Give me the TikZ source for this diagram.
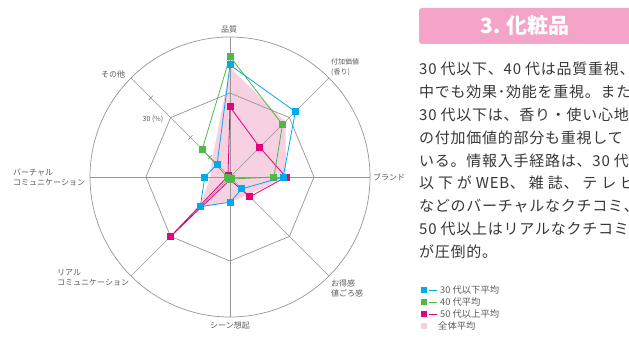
\documentclass[tikz,border=0pt]{standalone}
\usepackage{fontspec}
\setmainfont{Noto Sans CJK JP}
\usepackage{xcolor}

\definecolor{c30}{RGB}{0,171,233}
\definecolor{c40}{RGB}{80,184,72}
\definecolor{c50}{RGB}{228,0,127}
\definecolor{cavg}{RGB}{247,208,225}
\definecolor{cgrid}{RGB}{150,150,150}
\definecolor{chead}{RGB}{244,164,199}
\definecolor{ctext}{RGB}{55,55,55}
\definecolor{clabel}{RGB}{90,90,90}

\tikzset{
    axisline/.style = {cgrid, line width=0.7pt},
    series/.style = {line width=0.8pt},
    marker/.style = {rectangle, inner sep=0pt, minimum size=7pt},
    legbox/.style = {rectangle, inner sep=0pt, minimum size=6pt},
    label/.style = {text=clabel, inner sep=0pt, align=left,
        font=\fontsize{8}{10}\selectfont}
}

\begin{document}
\begin{tikzpicture}[x=1pt, y=1pt]
    \useasboundingbox (0,0) rectangle (629,-342);

    % radar chart, 1 % = 2.8
    \begin{scope}[shift={(230,-177)}]
        \coordinate (o) at (0,0);

        % overall average (filled)
        \foreach \v [count=\i] in {39,28,20,9,9,15.5,7,9}
            \coordinate (m\i) at ({135-45*\i}:{2.8*\v});
        \fill [cavg] (m1) \foreach \i in {2,...,8} { -- (m\i) } -- cycle;

        % grid
        \draw [axisline] (o) circle (140);
        \draw [axisline] (0:84) \foreach \a in {45,90,...,315} { -- (\a:84) } -- cycle;
        \foreach \a in {0,45,...,315}
            \draw [axisline] (o) -- (\a:140);
        \foreach \r in {28,56,112}
            \draw [axisline] (135:\r) ++(45:3) -- ++(225:6);

        % 50 and over
        \foreach \v [count=\i] in {25,15,20,10,1,30,1,1}
            \coordinate (c\i) at ({135-45*\i}:{2.8*\v});
        \draw [series, c50] (c1) \foreach \i in {2,...,8} { -- (c\i) } -- cycle;
        \foreach \i in {1,...,8}
            \node [marker, fill=c50] (sq-c\i) at (c\i) {};

        % 40
        \foreach \v [count=\i] in {43,26.5,15.7,1,1,1,1,14}
            \coordinate (b\i) at ({135-45*\i}:{2.8*\v});
        \draw [series, c40] (b1) \foreach \i in {2,...,8} { -- (b\i) } -- cycle;
        \foreach \i in {1,...,8}
            \node [marker, fill=c40] (sq-b\i) at (b\i) {};

        % 30 and under
        \foreach \v [count=\i] in {40,33,19,6,9,15,9,6.5}
            \coordinate (a\i) at ({135-45*\i}:{2.8*\v});
        \draw [series, c30] (a1) \foreach \i in {2,...,8} { -- (a\i) } -- cycle;
        \foreach \i in {1,...,8}
            \node [marker, fill=c30] (sq-a\i) at (a\i) {};
    \end{scope}

    % axis labels
    \node [label] (lq) at (229,-29) {品質};
    \node [label, anchor=west, font=\fontsize{7}{10}\selectfont] (lf) at (331,-67) {付加価値\\(香り)};
    \node [label, anchor=west] (lb) at (373,-177) {ブランド};
    \node [label, anchor=west] (lo) at (331,-288) {お得感\\値ごろ感};
    \node [label] (ls) at (230,-325) {シーン想起};
    \node [label, anchor=west] (lr) at (57,-278) {リアル\\コミュニケーション};
    \node [label, anchor=west] (lv) at (13,-177) {バーチャル\\コミュニケーション};
    \node [label] (le) at (113,-74) {その他};
    \node [label, font=\fontsize{7}{8}\selectfont] (lp) at (153,-119) {30 (\%)};

    % heading
    \fill [chead, rounded corners=3pt] (419,-8) rectangle (660,-44);
    \node [white, font=\bfseries\fontsize{21}{21}\selectfont] (head) at (525,-26) {3. 化粧品};

    % text
    \node [anchor=north west, align=left, inner sep=0pt, text=ctext,
        font=\fontsize{15}{22.8}\selectfont\addfontfeature{LetterSpace=5}] (body) at (419,-62) {%
        30 代以下、40 代は品質重視、\\
        中でも効果･効能を重視。また、\\
        30 代以下は、香り・使い心地\\
        の付加価値的部分も重視して\\
        いる。情報入手経路は、30 代\\
        \makebox[216pt][s]{以 下 が WEB、 雑 誌、 テ レ ビ}\\
        などのバーチャルなクチコミ、\\
        50 代以上はリアルなクチコミ\\
        が圧倒的。};

    % legend
    \foreach \c/\t [count=\i] in {c30/30 代以下平均, c40/40 代平均, c50/50 代以上平均} {
        \node [legbox, fill=\c] (key\i) at (423.5,{-290-12*(\i-1)}) {};
        \draw [\c, line width=0.8pt] (429,{-290-12*(\i-1)}) -- (437,{-290-12*(\i-1)});
        \node [label, anchor=west, font=\fontsize{9.3}{10}\selectfont] (kt\i) at (440,{-290-12*(\i-1)}) {\t};
    }
    \node [legbox, fill=cavg] (key4) at (423.5,-326) {};
    \node [label, anchor=west, font=\fontsize{9.3}{10}\selectfont] (kt4) at (438,-326) {全体平均};
\end{tikzpicture}
\end{document}
